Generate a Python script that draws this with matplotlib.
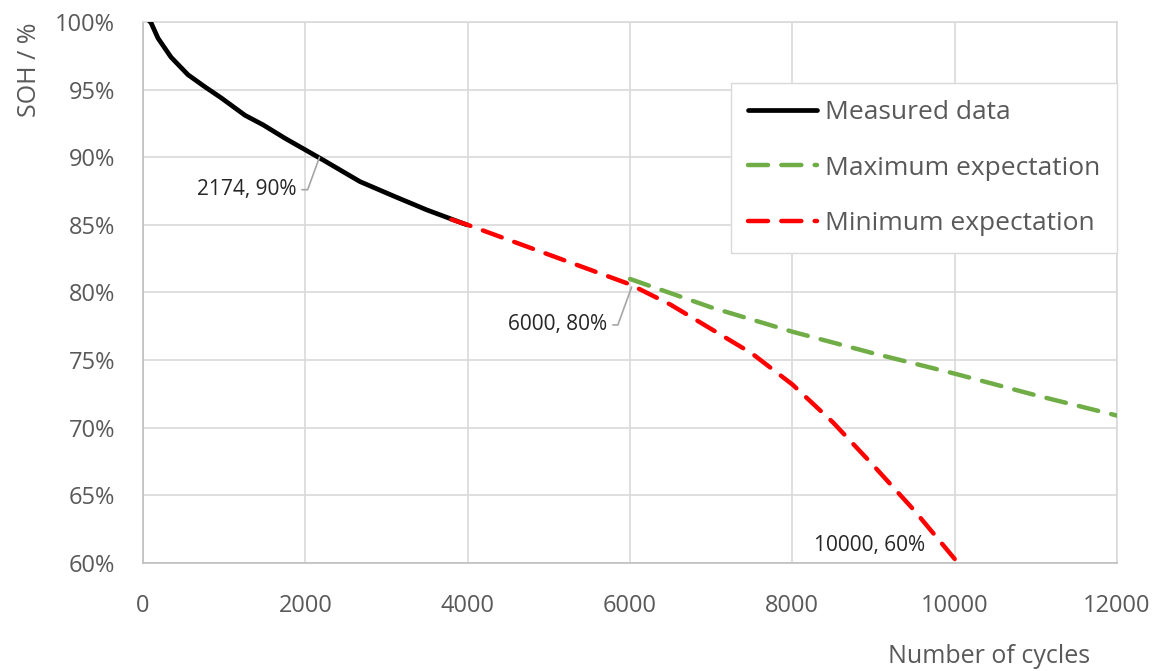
import matplotlib
matplotlib.use('Agg')
import matplotlib.pyplot as plt
from matplotlib.ticker import FuncFormatter

plt.rcParams['font.family'] = ['Open Sans', 'DejaVu Sans']

GREY = '#595959'
GRID = '#d9d9d9'

# measured SOH over cycles
measured_x = [60, 100, 185, 345, 554, 764, 961, 1257, 1478, 1750, 2218, 2673, 3100, 3499, 3992]
measured_y = [100.2, 99.93, 98.8, 97.4, 96.1, 95.2, 94.4, 93.1, 92.4, 91.4, 89.8, 88.2, 87.1, 86.1, 85.0]

# expectations
max_x = [6000, 7000, 8000, 9000, 10000, 11000, 12000]
max_y = [81.0, 78.9, 77.1, 75.5, 74.0, 72.4, 70.9]

min_x = [3800, 4000, 5000, 6000, 6500, 7000, 7500, 8000, 8500, 9000, 9500, 10000]
min_y = [85.4, 85.0, 82.8, 80.6, 79.1, 77.3, 75.5, 73.2, 70.4, 67.2, 63.9, 60.3]

x_ticks = [0, 2000, 4000, 6000, 8000, 10000, 12000]
y_ticks = [60, 65, 70, 75, 80, 85, 90, 95, 100]

fig = plt.figure(figsize=(11.58, 6.71), dpi=100)
ax = fig.add_axes([0.1235, 0.161, 0.8411, 0.8062])

ax.plot(measured_x, measured_y, color='black', lw=3.4, solid_capstyle='round',
        solid_joinstyle='round', label='Measured data', zorder=3)
ax.plot(max_x, max_y, color='#70ad47', lw=3.2, dashes=(4.5, 3), dash_capstyle='round',
        label='Maximum expectation', zorder=4)
ax.plot(min_x, min_y, color='#ff0000', lw=3.2, dashes=(4.5, 3), dash_capstyle='round',
        label='Minimum expectation', zorder=5)

ax.set_xlim(0, 12000)
ax.set_ylim(60, 100)
ax.set_xticks(x_ticks)
ax.set_yticks(y_ticks)
ax.yaxis.set_major_formatter(FuncFormatter(lambda v, p: f'{v:.0f}%'))
ax.grid(True, color=GRID, lw=1.2, zorder=0)
ax.set_axisbelow(True)
ax.tick_params(length=0, labelsize=17, labelcolor=GREY)
ax.tick_params(axis='x', pad=22)
ax.tick_params(axis='y', pad=20)
for name, sp in ax.spines.items():
    sp.set_color(GRID)
    sp.set_linewidth(1.2)
ax.spines['left'].set_color('#bfbfbf')
ax.spines['bottom'].set_color('#bfbfbf')

ax.set_xlabel('Number of cycles', fontsize=18, color=GREY, ha='right', va='center')
ax.xaxis.set_label_coords(0.972, -0.172)
ax.set_ylabel('SOH / %', fontsize=18, color=GREY, loc='top')
ax.yaxis.set_label_coords(-0.104, 1.0)

# data labels with leader lines
ax.annotate('2174, 90%', xy=(2174, 90), xytext=(1890, 87.6), fontsize=15,
            color='#262626', ha='right', va='center',
            arrowprops=dict(arrowstyle='-', color='#a6a6a6', lw=1.2,
                            connectionstyle='angle,angleA=0,angleB=70,rad=0',
                            shrinkA=2, shrinkB=0))
ax.annotate('6000, 80%', xy=(6020, 80.4), xytext=(5720, 77.6), fontsize=15,
            color='#262626', ha='right', va='center',
            arrowprops=dict(arrowstyle='-', color='#a6a6a6', lw=1.2,
                            connectionstyle='angle,angleA=0,angleB=70,rad=0',
                            shrinkA=2, shrinkB=0))
ax.text(9630, 61.3, '10000, 60%', fontsize=15, color='#262626', ha='right', va='center')

leg = ax.legend(loc='upper right', bbox_to_anchor=(1.0, 0.887), fontsize=19,
                handlelength=2.6, handletextpad=0.3, labelspacing=1.15, borderpad=0.65,
                fancybox=False, framealpha=1, edgecolor=GRID, borderaxespad=0)
for t in leg.get_texts():
    t.set_color(GREY)

fig.savefig('out.png', dpi=100)
